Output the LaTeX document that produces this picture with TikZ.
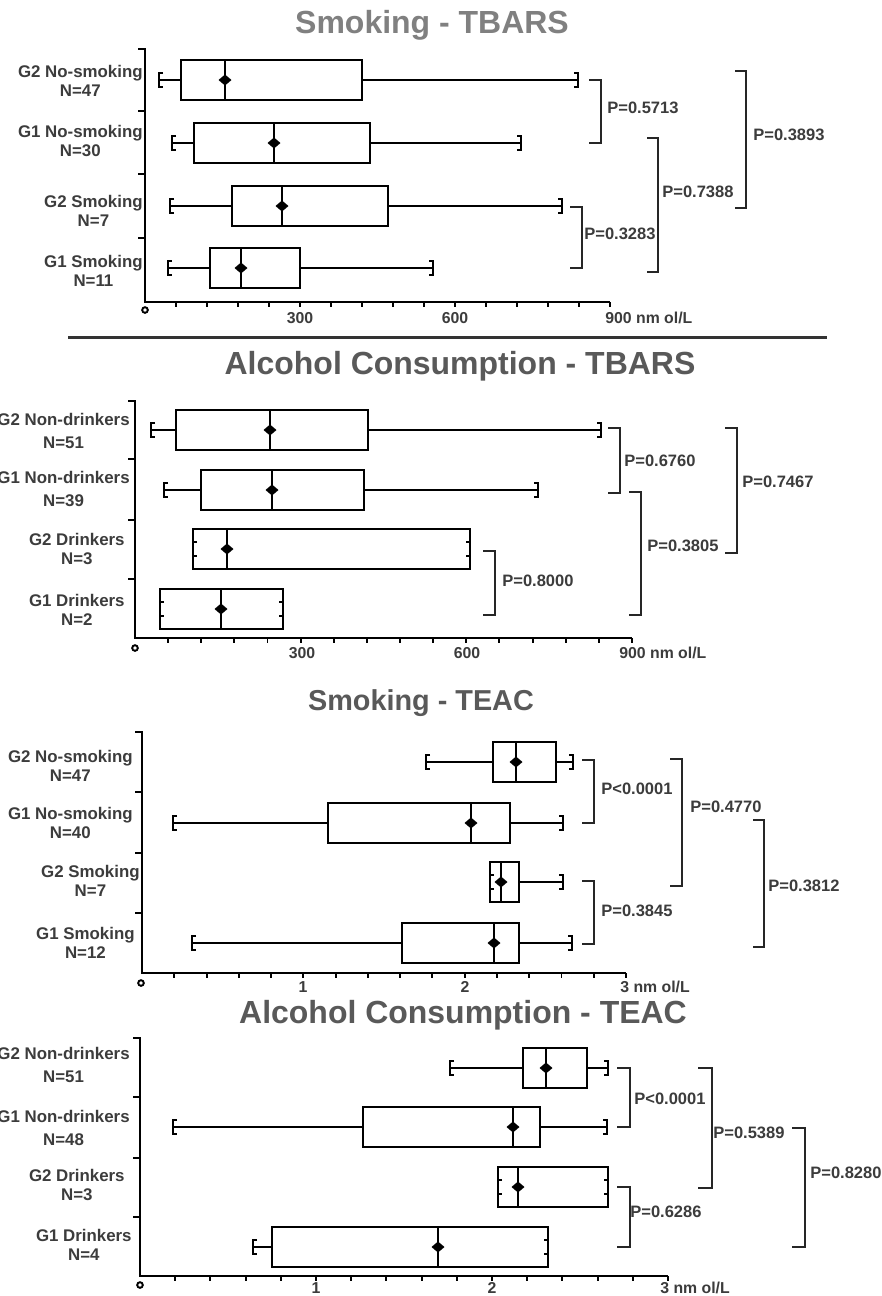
\documentclass[tikz,border=0pt]{standalone}
\usepackage{fontspec}
\setmainfont{Liberation Sans}
\definecolor{txtgray}{HTML}{3C3C3C}
\definecolor{ttlgray}{HTML}{595959}
\definecolor{ttllight}{HTML}{808080}
\tikzset{
  bx/.style={line width=1.1pt, black},
  capline/.style={line width=1.5pt, black},
  axisline/.style={line width=1.6pt, black},
  brk/.style={line width=1.4pt, black!85},
  grp/.style={align=center, anchor=east, font=\fontsize{9.6}{10.5}\selectfont\bfseries, text=txtgray, inner sep=0pt},
  pval/.style={anchor=west, font=\fontsize{9.4}{10}\selectfont\bfseries, text=txtgray, inner sep=0pt},
  tck/.style={font=\fontsize{9}{10}\selectfont\bfseries, text=txtgray, inner sep=0pt},
  ttl/.style={font=\fontsize{18.2}{20}\selectfont\bfseries, text=ttlgray, inner sep=0pt}
}
\newcommand{\bxrow}[6]{%
  \draw[bx] (#2,#1) -- (#3,#1);
  \draw[bx] (#5,#1) -- (#6,#1);
  \draw[bx] (#3,#1-20) rectangle (#5,#1+20);
  \draw[bx] (#4,#1-20) -- (#4,#1+20);
  \fill (#4-6.5,#1) -- (#4,#1-5.5) -- (#4+6.5,#1) -- (#4,#1+5.5) -- cycle;
  \draw[capline] (#2+4,#1-7) -- (#2,#1-7) -- (#2,#1+7) -- (#2+4,#1+7);
  \draw[capline] (#6-4,#1-7) -- (#6,#1-7) -- (#6,#1+7) -- (#6-4,#1+7);}
\newcommand{\pbracket}[8]{%
  \draw[brk] (#2,#4) -- (#3,#4) -- (#3,#5) -- (#2,#5);
  \node[pval] (#1) at (#6,#7) {#8};}
\begin{document}
\begin{tikzpicture}[x=0.02cm, y=-0.02cm]
  \fill[white] (0,0) rectangle (882,1296);
  \useasboundingbox (0,0) rectangle (882,1296);

  \node[ttl, text=ttllight] (ttlA) at (432,25) {Smoking - TBARS};
  \draw[axisline] (138,49) -- (145,49) -- (145,302) -- (610,302);
  \foreach \yy in {111,174,238} \draw[axisline] (138,\yy) -- (145,\yy);
  \foreach \k in {1,...,15} \draw[bx] (145+31*\k,302) -- (145+31*\k,307);
  \draw[bx] (145,310) circle (1.6pt);
  \bxrow{80}{159}{181}{225}{362}{578}
  \bxrow{143}{172}{194}{274}{370}{521}
  \bxrow{206}{170}{232}{282}{388}{562}
  \bxrow{268}{168}{210}{241}{300}{433}
  \node[grp] (gA1) at (143,81) {G2 No-smoking\\N=47};
  \node[grp] (gA2) at (143,141) {G1 No-smoking\\N=30};
  \node[grp] (gA3) at (143,211) {G2 Smoking\\N=7};
  \node[grp] (gA4) at (143,271) {G1 Smoking\\N=11};
  \node[tck] (tA1) at (300,318) {300};
  \node[tck] (tA2) at (455,318) {600};
  \node[tck, anchor=west] (tA3) at (605,318) {900 nm ol/L};
  \pbracket{pA1}{589}{601}{80}{143}{607}{108}{P=0.5713}
  \pbracket{pA2}{570}{582}{207}{268}{584}{234}{P=0.3283}
  \pbracket{pA3}{647}{658}{138}{272}{662}{192}{P=0.7388}
  \pbracket{pA4}{735}{746}{71}{208}{753}{135}{P=0.3893}
  \draw[line width=1.7pt, black!80] (68,337) -- (827,337);

  \node[ttl] (ttlB) at (460,366) {Alcohol Consumption - TBARS};
  \draw[axisline] (128,401) -- (135,401) -- (135,638) -- (632,638);
  \foreach \yy in {459,520,579} \draw[axisline] (128,\yy) -- (135,\yy);
  \foreach \k in {1,...,15} \draw[bx] (135+33.13*\k,638) -- (135+33.13*\k,643);
  \draw[bx] (135,648) circle (1.6pt);
  \bxrow{430}{151}{176}{270}{368}{601}
  \bxrow{490}{164}{201}{272}{364}{538}
  \bxrow{549}{193}{193}{227}{470}{470}
  \bxrow{609}{160}{160}{221}{283}{283}
  \node[grp] (gB1) at (130,431) {G2 Non-drinkers\\[3pt]N=51};
  \node[grp] (gB2) at (130,489) {G1 Non-drinkers\\[3pt]N=39};
  \node[grp] (gB3) at (125,549) {G2 Drinkers\\N=3};
  \node[grp] (gB4) at (125,610) {G1 Drinkers\\N=2};
  \node[tck] (tB1) at (302,653) {300};
  \node[tck] (tB2) at (467,653) {600};
  \node[tck, anchor=west] (tB3) at (619,653) {900 nm ol/L};
  \pbracket{pB1}{608}{620}{428}{493}{624}{461}{P=0.6760}
  \pbracket{pB2}{483}{495}{551}{615}{502}{581}{P=0.8000}
  \pbracket{pB3}{629}{641}{492}{615}{647}{546}{P=0.3805}
  \pbracket{pB4}{725}{737}{428}{553}{742}{482}{P=0.7467}

  \node[ttl, font=\fontsize{16.4}{18}\selectfont\bfseries] (ttlC) at (421,703) {Smoking - TEAC};
  \draw[axisline] (135,732) -- (142,732) -- (142,973) -- (626,973);
  \foreach \yy in {792,853,913} \draw[axisline] (135,\yy) -- (142,\yy);
  \foreach \k in {1,...,15} \draw[bx] (142+32.27*\k,973) -- (142+32.27*\k,978);
  \draw[bx] (141,983) circle (1.6pt);
  \bxrow{762}{426}{493}{516}{556}{573}
  \bxrow{823}{173}{328}{471}{510}{563}
  \bxrow{882}{490}{490}{501}{519}{563}
  \bxrow{943}{192}{402}{494}{519}{572}
  \node[grp] (gC1) at (133,766) {G2 No-smoking\\N=47};
  \node[grp] (gC2) at (133,823) {G1 No-smoking\\N=40};
  \node[grp] (gC3) at (140,881) {G2 Smoking\\N=7};
  \node[grp] (gC4) at (135,943) {G1 Smoking\\N=12};
  \node[tck] (tC1) at (303,987) {1};
  \node[tck] (tC2) at (465,987) {2};
  \node[tck, anchor=west] (tC3) at (620,987) {3 nm ol/L};
  \pbracket{pC1}{582}{594}{760}{823}{601}{789}{P<0.0001}
  \pbracket{pC2}{582}{594}{881}{944}{601}{911}{P=0.3845}
  \pbracket{pC3}{670}{682}{759}{886}{690}{807}{P=0.4770}
  \pbracket{pC4}{753}{764}{820}{947}{768}{886}{P=0.3812}

  \node[ttl] (ttlD) at (463,1015) {Alcohol Consumption - TEAC};
  \draw[axisline] (133,1038) -- (140,1038) -- (140,1276) -- (668,1276);
  \foreach \yy in {1097,1158,1217} \draw[axisline] (133,\yy) -- (140,\yy);
  \foreach \k in {1,...,15} \draw[bx] (140+35.2*\k,1276) -- (140+35.2*\k,1281);
  \draw[bx] (140,1285) circle (1.6pt);
  \bxrow{1068}{450}{523}{546}{587}{608}
  \bxrow{1127}{173}{363}{513}{540}{607}
  \bxrow{1187}{498}{498}{518}{608}{608}
  \bxrow{1247}{253}{272}{438}{548}{548}
  \node[grp] (gD1) at (130,1065) {G2 Non-drinkers\\[3pt]N=51};
  \node[grp] (gD2) at (130,1128) {G1 Non-drinkers\\[3pt]N=48};
  \node[grp] (gD3) at (125,1185) {G2 Drinkers\\N=3};
  \node[grp] (gD4) at (132,1245) {G1 Drinkers\\N=4};
  \node[tck] (tD1) at (316,1288) {1};
  \node[tck] (tD2) at (492,1288) {2};
  \node[tck, anchor=west] (tD3) at (660,1288) {3 nm ol/L};
  \pbracket{pD1}{617}{630}{1068}{1127}{634}{1099}{P<0.0001}
  \pbracket{pD2}{617}{630}{1187}{1247}{630}{1212}{P=0.6286}
  \pbracket{pD3}{698}{712}{1068}{1188}{713}{1133}{P=0.5389}
  \pbracket{pD4}{792}{805}{1128}{1247}{810}{1173}{P=0.8280}
\end{tikzpicture}
\end{document}
